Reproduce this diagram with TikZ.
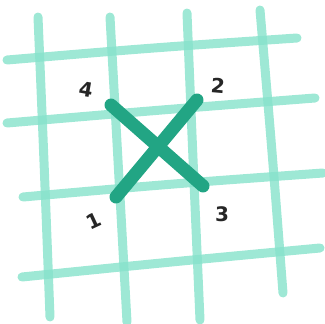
\documentclass[tikz,border=0pt]{standalone}
\usepackage{fontspec}
\setmainfont{DejaVu Sans}
\begin{document}
\begin{tikzpicture}[x=1pt,y=-1pt,
  gridline/.style={draw=gridc,line width=9pt,line cap=round,opacity=0.8},
  stitch/.style={draw=stitchc,line width=13pt,line cap=round},
  num/.style={text=black!85,font=\bfseries\fontsize{20}{20}\selectfont,inner sep=0pt}]
\definecolor{gridc}{HTML}{86E2CB}
\definecolor{stitchc}{HTML}{22A584}
\useasboundingbox (0,0) rectangle (325,324);
% vertical grid lines
\draw[gridline] (38,17) .. controls (44,160) .. (50,317);
\draw[gridline] (110,17) .. controls (118,170) .. (127,322);
\draw[gridline] (187,13) .. controls (193,160) .. (200,320);
\draw[gridline] (260,10) .. controls (272,150) .. (283,293);
% horizontal grid lines
\draw[gridline] (7,60) .. controls (150,48) .. (297,38);
\draw[gridline] (7,123) .. controls (160,110) .. (315,98);
\draw[gridline] (23,197) .. controls (170,184) .. (323,173);
\draw[gridline] (22,277) .. controls (170,262) .. (320,248);
% cross stitch
\coordinate (p1) at (116,197);
\coordinate (p2) at (197,100);
\coordinate (p3) at (203,186);
\coordinate (p4) at (111,105);
\draw[stitch] (p1) -- (p2);
\draw[stitch] (p4) -- (p3);
% labels
\node[num,rotate=-10] (l4) at (86,90) {4};
\node[num,rotate=-5] (l2) at (218,86) {2};
\node[num,rotate=25] (l1) at (94,221) {1};
\node[num] (l3) at (222,214) {3};
\end{tikzpicture}
\end{document}
